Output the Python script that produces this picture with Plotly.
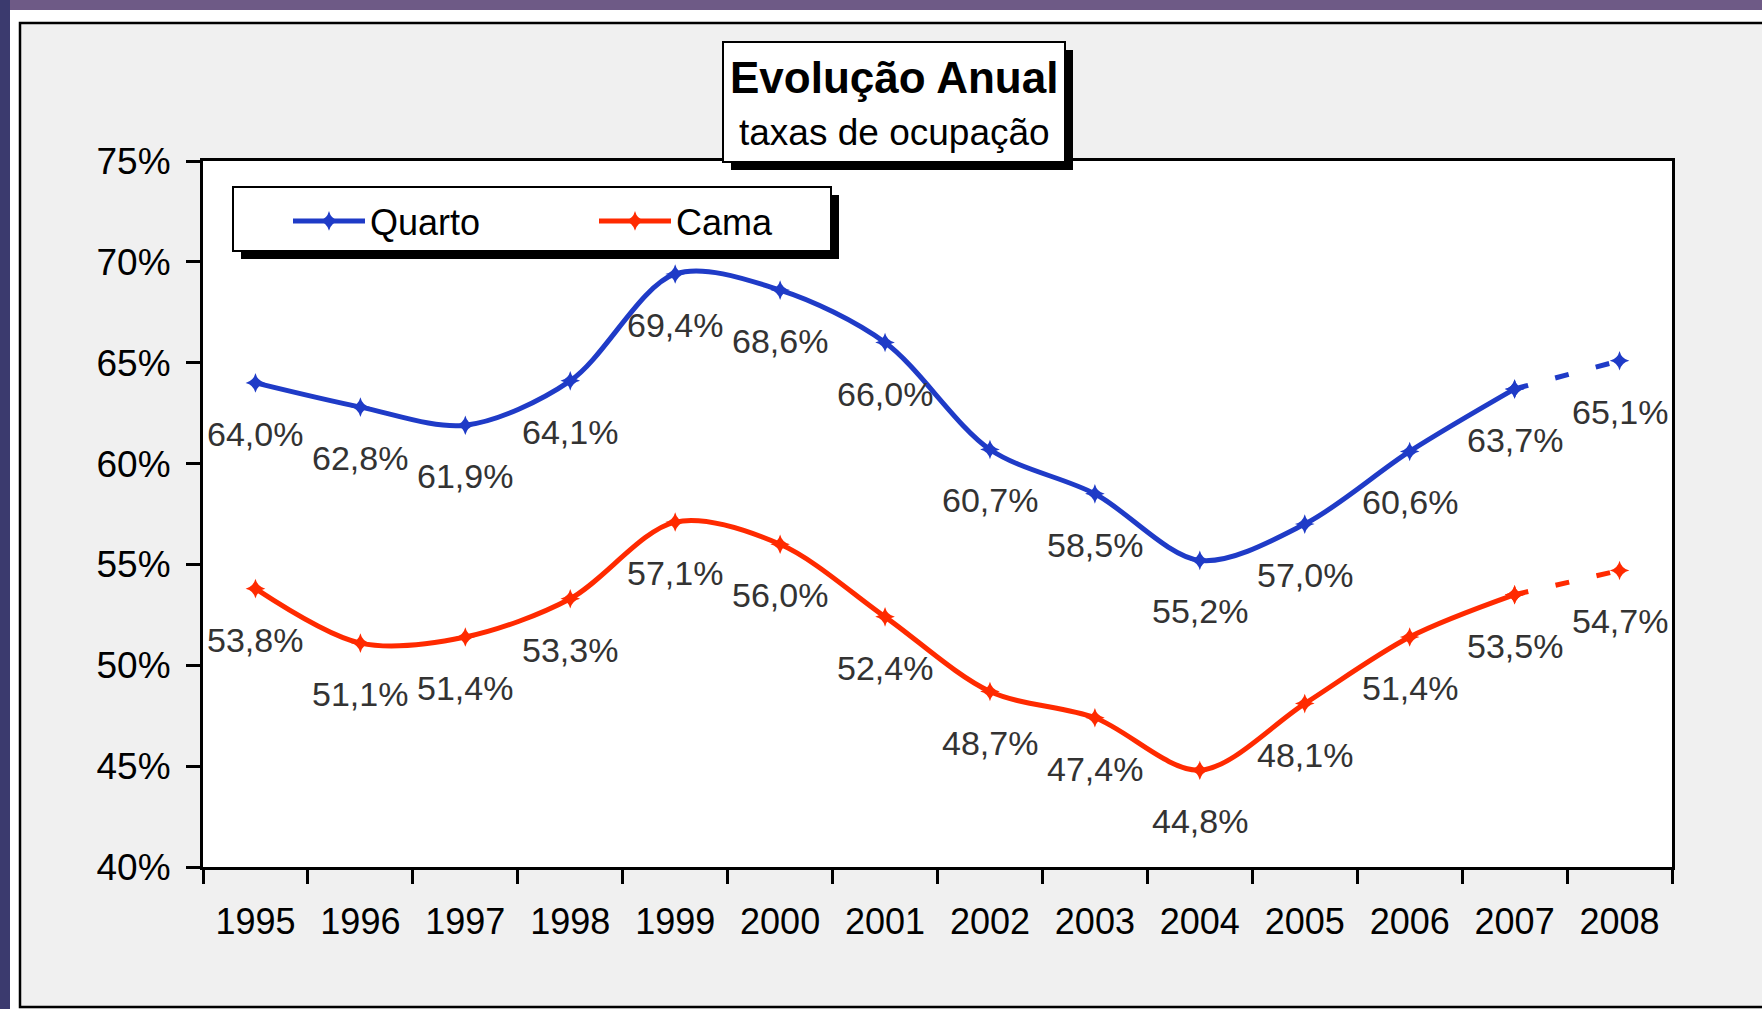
import plotly.graph_objects as go

anos = [1995, 1996, 1997, 1998, 1999, 2000, 2001,
        2002, 2003, 2004, 2005, 2006, 2007, 2008]
rotulos_anos = ["1995", "1996", "1997", "1998", "1999", "2000", "2001",
                "2002", "2003", "2004", "2005", "2006", "2007", "2008"]
quarto = [64.0, 62.8, 61.9, 64.1, 69.4, 68.6, 66.0, 60.7, 58.5, 55.2, 57.0, 60.6, 63.7, 65.1]
cama = [53.8, 51.1, 51.4, 53.3, 57.1, 56.0, 52.4, 48.7, 47.4, 44.8, 48.1, 51.4, 53.5, 54.7]
yticks = [40, 45, 50, 55, 60, 65, 70, 75]
yrotulos = ["40%", "45%", "50%", "55%", "60%", "65%", "70%", "75%"]

azul = "#1f3bc7"
vermelho = "#ff2a00"

# pixel geometry of the plot area (figure is 1762x1009)
W, H = 1762, 1009
L, R, T, B = 203, 1672, 161, 867


def px(x):
    return (x - L) / (R - L)


def py(y):
    return (B - y) / (B - T)


def fmt(v):
    return f"{v:.1f}".replace(".", ",") + "%"


fig = go.Figure()

anots = []
for nome, vals, cor in [("Quarto", quarto, azul), ("Cama", cama, vermelho)]:
    # linha suavizada até 2007
    fig.add_trace(go.Scatter(
        x=anos[:-1], y=vals[:-1], mode="lines+markers", name=nome,
        line=dict(color=cor, width=5, shape="spline", smoothing=0.9),
        marker=dict(symbol="star-diamond", size=14, color=cor),
    ))
    # último troço tracejado (2007 -> 2008)
    fig.add_trace(go.Scatter(
        x=anos[-2:], y=vals[-2:], mode="lines+markers", showlegend=False,
        line=dict(color=cor, width=5, dash="14px,28px"),
        marker=dict(symbol="star-diamond", size=14, color=cor),
    ))
    for a, v in zip(anos, vals):
        anots.append(dict(
            x=a, y=v, xref="x", yref="y", text=fmt(v), showarrow=False,
            xanchor="center", yanchor="middle", yshift=-51,
            font=dict(family="Liberation Sans Narrow, Liberation Sans, Arial",
                      size=34, color="#333333"),
        ))

# título
anots.append(dict(x=px(894), y=py(78), xref="paper", yref="paper", showarrow=False,
                  xanchor="center", yanchor="middle",
                  text="<b>Evolução Anual</b>",
                  font=dict(family="Liberation Sans, Arial", size=44, color="black")))
anots.append(dict(x=px(894), y=py(133), xref="paper", yref="paper", showarrow=False,
                  xanchor="center", yanchor="middle",
                  text="taxas de ocupação",
                  font=dict(family="Liberation Sans, Arial", size=37, color="black")))

shapes = [
    # fundo da captura de ecrã
    dict(type="rect", xref="paper", yref="paper", x0=px(0), x1=px(W), y0=py(0), y1=py(10),
         fillcolor="#6e5a86", line=dict(width=0), layer="below"),
    dict(type="rect", xref="paper", yref="paper", x0=px(0), x1=px(10), y0=py(0), y1=py(H),
         fillcolor="#3b3a6e", line=dict(width=0), layer="below"),
    dict(type="rect", xref="paper", yref="paper", x0=px(10), x1=px(W), y0=py(10), y1=py(22),
         fillcolor="white", line=dict(width=0), layer="below"),
    dict(type="rect", xref="paper", yref="paper", x0=px(10), x1=px(19), y0=py(10), y1=py(H),
         fillcolor="white", line=dict(width=0), layer="below"),
    # moldura do gráfico
    dict(type="rect", xref="paper", yref="paper", x0=px(20), x1=px(W + 20), y0=py(23), y1=py(1007),
         fillcolor="rgba(0,0,0,0)", line=dict(color="black", width=2.5), layer="below"),
    # caixa do título com sombra
    dict(type="rect", xref="paper", yref="paper", x0=px(731), x1=px(1073), y0=py(50), y1=py(170),
         fillcolor="black", line=dict(width=0)),
    dict(type="rect", xref="paper", yref="paper", x0=px(723), x1=px(1065), y0=py(42), y1=py(162),
         fillcolor="white", line=dict(color="black", width=2)),
    # caixa da legenda com sombra
    dict(type="rect", xref="paper", yref="paper", x0=px(241), x1=px(839), y0=py(195), y1=py(259),
         fillcolor="black", line=dict(width=0)),
    dict(type="rect", xref="paper", yref="paper", x0=px(233), x1=px(831), y0=py(187), y1=py(251),
         fillcolor="white", line=dict(color="black", width=2)),
]

fig.update_layout(
    width=W, height=H,
    margin=dict(l=L, r=W - R, t=T, b=H - B),
    paper_bgcolor="#f0f0f0",
    plot_bgcolor="white",
    font=dict(family="Liberation Sans, Arial", color="black"),
    showlegend=True,
    legend=dict(
        orientation="h", x=px(288), y=py(221), xanchor="left", yanchor="middle",
        bgcolor="rgba(0,0,0,0)", borderwidth=0,
        font=dict(family="Liberation Sans, Arial", size=36, color="black"),
        entrywidth=219, entrywidthmode="pixels", itemwidth=72,
    ),
    annotations=anots,
    shapes=shapes,
)

fig.update_xaxes(
    range=[anos[0] - 0.5, anos[-1] + 0.5],
    tickvals=anos, ticktext=rotulos_anos, ticks="",
    minor=dict(tick0=anos[0] - 0.5, dtick=1, ticks="outside", ticklen=14,
               tickwidth=2.5, tickcolor="black", showgrid=False),
    showline=True, linecolor="black", linewidth=3, mirror=True,
    showgrid=False, zeroline=False,
    tickfont=dict(size=36, color="black"), ticklabelstandoff=21,
)
fig.update_yaxes(
    range=[40, 75], tickvals=yticks, ticktext=yrotulos,
    ticks="outside", ticklen=14, tickwidth=2.5, tickcolor="black",
    showline=True, linecolor="black", linewidth=3, mirror=True,
    showgrid=False, zeroline=False,
    tickfont=dict(size=37, color="black"), ticklabelstandoff=8,
)

fig.write_html("out.html", config={"displayModeBar": False},
               post_script="document.body.style.margin='0';")
